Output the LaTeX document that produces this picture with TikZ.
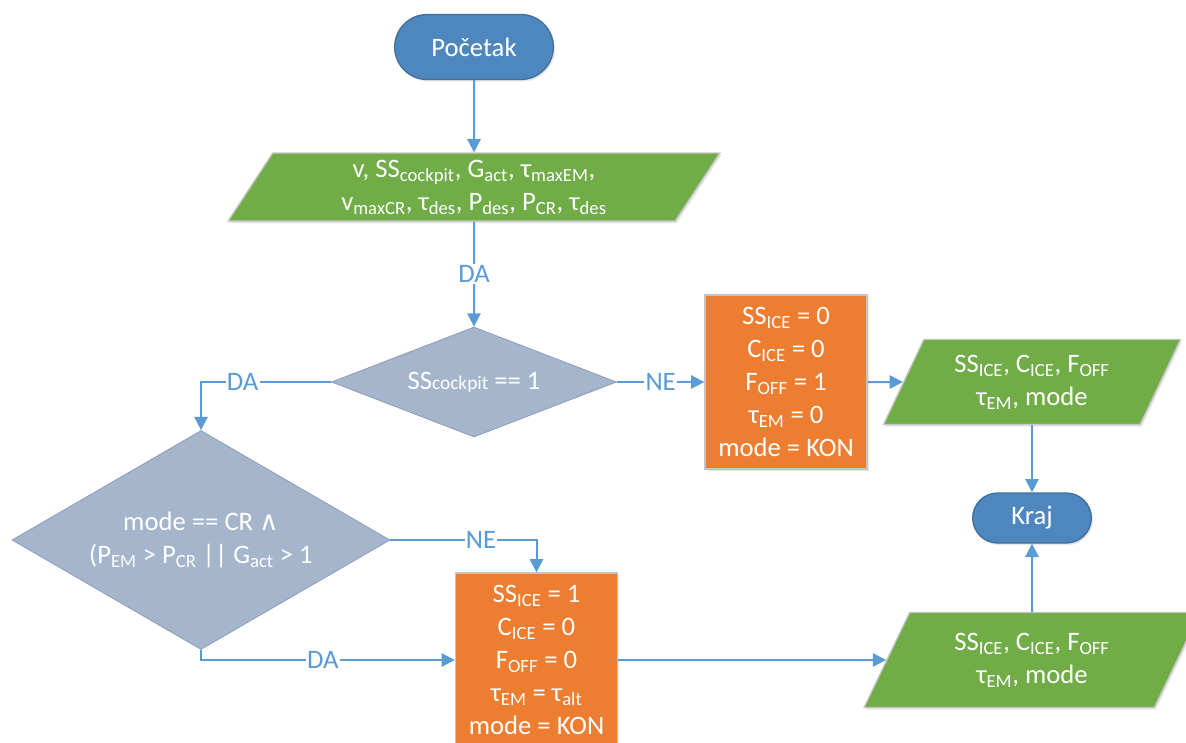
\documentclass[tikz,border=0pt]{standalone}
\usepackage{fontspec}
\setmainfont{Carlito}
\newfontfamily\symfont{DejaVu Sans}
\usetikzlibrary{shapes.geometric, shapes.misc, arrows.meta, shadows}
\definecolor{termblue}{HTML}{4E86BE}
\definecolor{termline}{HTML}{41719C}
\definecolor{iogreen}{HTML}{70AD47}
\definecolor{procorange}{HTML}{ED7D31}
\definecolor{decgray}{HTML}{A5B5CC}
\definecolor{decline}{HTML}{8C9DB8}
\definecolor{arrowblue}{HTML}{5B9BD5}
\definecolor{edgegray}{HTML}{C4C4C4}
\newcommand{\lo}[1]{\textsubscript{#1}}

\begin{document}
\begin{tikzpicture}[
      x = 0.75pt, y = -0.75pt,
      every node/.style = {
        text = white, align = center, inner sep = 2pt,
        font = \fontsize{20}{24.75}\selectfont},
      shade/.style = {drop shadow = {opacity = .2,
        shadow xshift = 1.2pt, shadow yshift = -1.5pt}},
      term/.style = {rounded rectangle, draw = termline, fill = termblue,
        line width = 1pt, minimum width = 123pt, minimum height = 48.75pt, shade},
      io/.style = {trapezium, trapezium left angle = 63.4,
        trapezium right angle = 116.6, trapezium stretches = true,
        draw = edgegray, fill = iogreen, line width = 1pt, shade},
      proc/.style = {rectangle, draw = edgegray, fill = procorange,
        line width = 1pt, minimum width = 121.5pt, minimum height = 130.5pt, shade},
      dec/.style = {diamond, draw = decline, fill = decgray,
        line width = .6pt, inner sep = 0pt},
      lbl/.style = {text = arrowblue, fill = white, inner sep = 1pt},
      arr/.style = {arrowblue, line width = 1.5pt,
        -{Triangle[length = 10pt, width = 10pt]}}
      ]
    \useasboundingbox (0,0) rectangle (1186,743);
    \node[term] (start) at (474,47) {Početak};
    \node[io, minimum width = 369pt, minimum height = 51pt] (in1) at (474,187)
      {v, SS\lo{cockpit}, G\lo{act}, τ\lo{maxEM},\\
       v\lo{maxCR}, τ\lo{des}, P\lo{des}, P\lo{CR}, τ\lo{des}};
    \node[dec, aspect = 2.6, minimum width = 213.75pt, minimum height = 82.5pt] (d1) at (474,382)
      {SS{\fontsize{14.5}{14.5}\selectfont cockpit} == 1};
    \node[proc] (b1) at (786,382)
      {SS\lo{ICE} = 0\\ C\lo{ICE} = 0\\ F\lo{OFF} = 1\\ τ\lo{EM} = 0\\ mode = KON};
    \node[io, minimum width = 222.75pt, minimum height = 63.75pt] (out1) at (1032,382)
      {SS\lo{ICE}, C\lo{ICE}, F\lo{OFF}\\ τ\lo{EM}, mode};
    \node[term, minimum width = 93pt, minimum height = 37.5pt] (end) at (1032,518) {Kraj};
    \node[dec, aspect = 1.73, minimum width = 283.5pt, minimum height = 164.25pt] (d2) at (201,540)
      {mode == CR {\symfont ∧}\\ (P\lo{EM} > P\lo{CR} || G\lo{act} > 1};
    \node[proc] (b2) at (536.5,660)
      {SS\lo{ICE} = 1\\ C\lo{ICE} = 0\\ F\lo{OFF} = 0\\ τ\lo{EM} = τ\lo{alt}\\ mode = KON};
    \node[io, minimum width = 252pt, minimum height = 71.25pt] (out2) at (1032,660)
      {SS\lo{ICE}, C\lo{ICE}, F\lo{OFF}\\ τ\lo{EM}, mode};
    \draw[arr] (start) -- (in1);
    \draw[arr] (in1) -- node[lbl] {DA} (d1);
    \draw[arr] (d1) -- node[lbl] {NE} (b1);
    \draw[arr] (b1) -- (out1);
    \draw[arr] (out1) -- (end);
    \draw[arr] (out2) -- (end);
    \draw[arr] (d1.west) -| node[lbl, pos = .34] {DA} (d2.north);
    \draw[arr] (d2.east) -| node[lbl, pos = .31] {NE} (b2.north);
    \draw[arr] (d2.south) |- node[lbl, pos = .74] {DA} (b2.west);
    \draw[arr] (b2) -- (out2);
  \end{tikzpicture}
\end{document}
